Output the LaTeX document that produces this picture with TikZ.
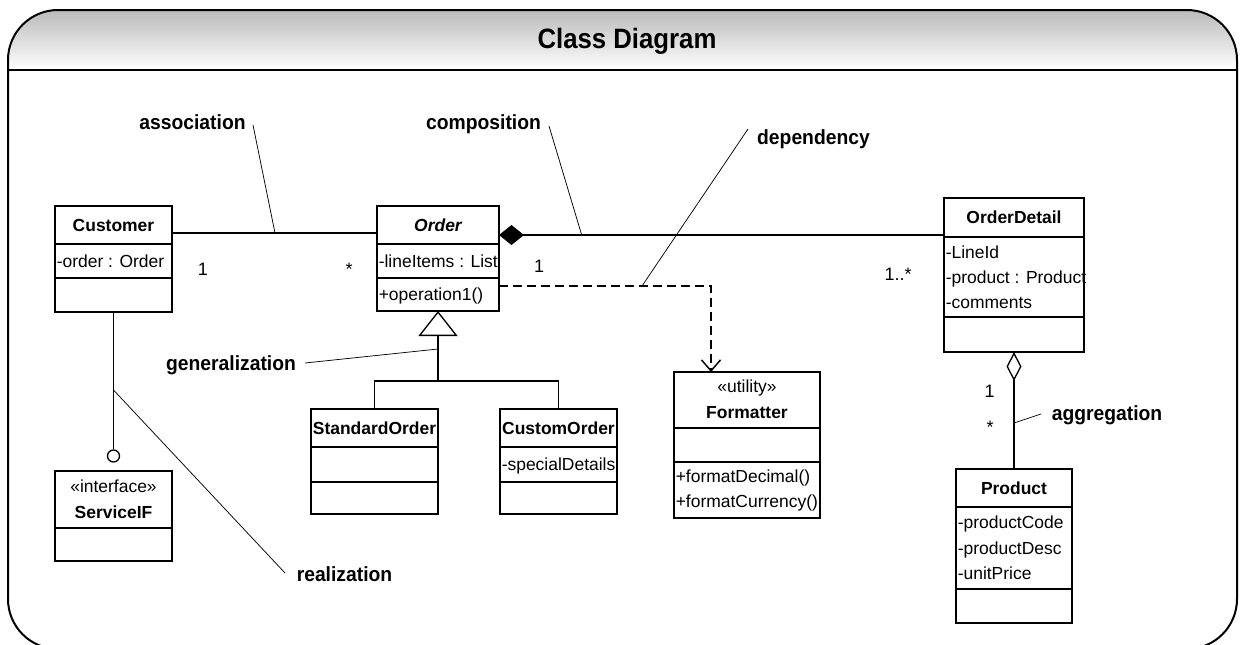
\documentclass[tikz,border=0pt]{standalone}
\usepackage{fontspec}
\setmainfont{Liberation Sans}
\newfontfamily\condfont[FakeStretch=0.94]{Liberation Sans}
\newfontfamily\titlefont[FakeStretch=0.92]{Liberation Sans}
\usetikzlibrary{arrows.meta,calc}
\newcommand\umlbox[5]{\node[boxst, minimum width={(#4-#2)*0.75pt}, minimum height={(#5-#3)*0.75pt}] (#1) at (#2,#3) {};}
\tikzset{
 boxst/.style={draw, line width=1.5pt, inner sep=0pt, outer sep=0pt, anchor=north west, fill=white},
 divl/.style={line width=1.5pt},
 attr/.style={font=\fontsize{13.1pt}{15pt}\selectfont, inner sep=0pt, anchor=base west},
 cname/.style={font=\fontsize{13.1pt}{15pt}\selectfont\bfseries, inner sep=0pt, anchor=base},
 stereo/.style={font=\fontsize{13.1pt}{15pt}\selectfont, inner sep=0pt, anchor=base},
 lbl/.style={font=\condfont\fontsize{15.4pt}{18pt}\selectfont\bfseries, inner sep=0pt, anchor=base},
 mult/.style={font=\fontsize{13.5pt}{16pt}\selectfont, inner sep=0pt, anchor=base},
 conn/.style={line width=1pt},
 leader/.style={line width=0.55pt},
}
\begin{document}
\begin{tikzpicture}[x=0.75pt,y=-0.75pt]
\useasboundingbox (0,0) rectangle (1243,644);
% frame
\shade[top color=black!27, bottom color=white] (8,70) -- (8,60) .. controls (8,32.4) and (30.4,10) .. (58,10) -- (1187,10) .. controls (1214.6,10) and (1237,32.4) .. (1237,60) -- (1237,70) -- cycle;
\draw[line width=1.5pt, rounded corners=37.5pt] (8,10) rectangle (1237,649);
\draw[line width=1.5pt] (8,70) -- (1237,70);
\node[font=\titlefont\fontsize{21pt}{24pt}\selectfont\bfseries, inner sep=0pt, anchor=base] (title) at (627,48.3) {Class Diagram};

% class boxes
\umlbox{customer}{55}{206}{172}{312}
\umlbox{order}{377}{206}{499}{311}
\umlbox{orderdetail}{944}{198}{1084}{352}
\umlbox{standardorder}{311}{409}{438}{514}
\umlbox{customorder}{500}{409}{617}{514}
\umlbox{formatter}{674}{372}{820}{518}
\umlbox{serviceif}{55}{471}{172}{561}
\umlbox{product}{956}{469}{1072}{623}

% compartments
\draw[divl] (55,244) -- (172,244) (55,278) -- (172,278);
\draw[divl] (377,244) -- (499,244) (377,278) -- (499,278);
\draw[divl] (944,237) -- (1084,237) (944,317) -- (1084,317);
\draw[divl] (311,447) -- (438,447) (311,482) -- (438,482);
\draw[divl] (500,447) -- (617,447) (500,482) -- (617,482);
\draw[divl] (674,428) -- (820,428) (674,462) -- (820,462);
\draw[divl] (55,528) -- (172,528);
\draw[divl] (956,507) -- (1072,507) (956,589) -- (1072,589);

% texts
\node[cname] (t-cust) at (113.5,231) {Customer};
\node[attr] (t-cust1) at (56.5,267) {-order : Order};
\node[cname] (t-order) at (438,231) {\itshape Order};
\node[attr] (t-order1) at (378.5,267) {-lineItems : List};
\node[attr] (t-order2) at (378.5,300) {+operation1()};
\node[cname] (t-od) at (1014,223) {OrderDetail};
\node[attr] (t-od1) at (945.5,258.5) {-LineId};
\node[attr] (t-od2) at (945.5,283.5) {-product : Product};
\node[attr] (t-od3) at (945.5,308.5) {-comments};
\node[cname] (t-std) at (374.5,434) {StandardOrder};
\node[cname] (t-cus) at (558.5,434) {CustomOrder};
\node[attr] (t-cus1) at (501.5,470) {-specialDetails};
\node[stereo] (t-fmt0) at (747,392.7) {«utility»};
\node[cname] (t-fmt) at (747,418.3) {Formatter};
\node[attr] (t-fmt1) at (675.5,482.7) {+formatDecimal()};
\node[attr] (t-fmt2) at (675.5,507.3) {+formatCurrency()};
\node[stereo] (t-sif0) at (113.5,492.7) {«interface»};
\node[cname] (t-sif) at (113.5,518.3) {ServiceIF};
\node[cname] (t-prod) at (1014,494) {Product};
\node[attr] (t-prod1) at (957.5,528.3) {-productCode};
\node[attr] (t-prod2) at (957.5,554) {-productDesc};
\node[attr] (t-prod3) at (957.5,579) {-unitPrice};

% association
\draw[conn] ($(customer.north east)+(0,27)$) -- ($(order.north west)+(0,27)$);
\node[mult] (m1) at (203,275) {1};
\node[mult] (m2) at (349,275) {*};
% composition
\draw[conn, {Diamond[fill=black,length=18.75pt,width=15pt]}-] ($(order.north east)+(0,29)$) -- ($(orderdetail.north west)+(0,37)$);
\node[mult] (m3) at (539,272) {1};
\node[mult] (m4) at (898,280) {1..*};
% dependency
\draw[line width=1.1pt, dash pattern=on 6.75pt off 3.75pt, -{Straight Barb[length=8.25pt,width=14.25pt]}] ($(order.north east)+(0,80)$) -| ($(formatter.north west)+(37,0)$);
% generalization
\coordinate (gj) at (438,381);
\draw[conn, {Triangle[open,length=18.75pt,width=29.25pt]}-] (order.south) -- (gj);
\draw[conn] (standardorder.north) |- (gj) -| (customorder.north);
% realization (interface lollipop)
\node[draw, circle, line width=1pt, minimum size=9pt, inner sep=0pt, fill=white] (iface) at (113.5,456) {};
\draw[conn] (customer.south) -- (iface.north);
% aggregation
\draw[conn, {Diamond[open,fill=white,length=21.75pt,width=11.25pt]}-] (orderdetail.south) -- (product.north);
\node[mult] (m5) at (989.5,397) {1};
\node[mult] (m6) at (990,433.5) {*};

% labels
\node[lbl] (l-assoc) at (192.5,129.3) {association};
\node[lbl] (l-comp) at (483.5,129.5) {composition};
\node[lbl] (l-dep) at (813.5,144) {dependency};
\node[lbl] (l-gen) at (231,370) {generalization};
\node[lbl] (l-real) at (344.5,581) {realization};
\node[lbl] (l-aggr) at (1107,420) {aggregation};

% leader lines
\coordinate (a1) at (253,125); \coordinate (a2) at (275,233);
\coordinate (c1) at (549,126); \coordinate (c2) at (582,236);
\coordinate (d1) at (748,129); \coordinate (d2) at (642,286);
\coordinate (g1) at (305,363); \coordinate (g2) at (438,349);
\coordinate (r1) at (113.5,390); \coordinate (r2) at (285,573);
\coordinate (ag1) at (1041,414); \coordinate (ag2) at (1014,423);
\draw[leader] (a1) -- (a2);
\draw[leader] (c1) -- (c2);
\draw[leader] (d1) -- (d2);
\draw[leader] (g1) -- (g2);
\draw[leader] (r1) -- (r2);
\draw[leader] (ag1) -- (ag2);
\end{tikzpicture}
\end{document}
